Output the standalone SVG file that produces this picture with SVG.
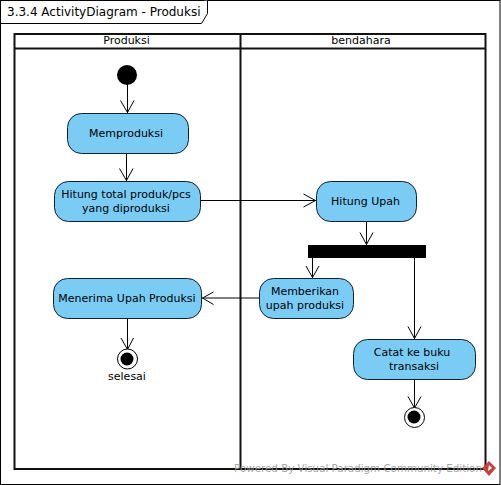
<svg xmlns="http://www.w3.org/2000/svg" width="501" height="485" viewBox="0 0 501 485">
<style>
text{font-family:"DejaVu Sans",sans-serif;font-size:11px;fill:#000;text-anchor:middle}
.act{fill:#7accf5;stroke:#10202c;stroke-width:1}
.c{fill:none;stroke:#000;stroke-width:1}
.lane{fill:none;stroke:#111;stroke-width:2}
.f{fill:#000}
.ring{fill:#fff;stroke:#000;stroke-width:1}
</style>
<rect width="501" height="485" fill="#fff"/>
<g id="frame">
<rect x="0.5" y="0.5" width="499.5" height="484" fill="none" stroke="#000"/>
<path d="M0.5 23.500H201.500L207.500 13.500V0.500" fill="#fff" stroke="#000"/>
<text x="7" y="16" style="text-anchor:start;font-size:12px">3.3.4 ActivityDiagram - Produksi</text>
</g>
<g id="lanes">
<rect class="lane" x="14.500" y="34" width="471" height="435"/>
<path class="lane" d="M14.500 48.500H485.500M240.500 34V469"/>
<text x="126.500" y="44">Produksi</text>
<text x="361" y="44">bendahara</text>
</g>
<g id="connectors">
<path class="c" d="M127.500 84V113M120.500 100.500L127.500 112.500L134 100.500"/>
<path class="c" d="M126.500 153V181M119.500 168.500L126.500 180.500L133 168.500"/>
<path class="c" d="M200 200.500H316M303.500 194L315.500 200.500L303.500 207"/>
<path class="c" d="M366.500 221V245M360 232.500L366.500 244.500L373 232.500"/>
<path class="c" d="M312.500 258V278M306 266L312.500 277.500L319 266"/>
<path class="c" d="M414.500 258V339M408 326.500L414.500 338.500L421 326.500"/>
<path class="c" d="M259 298H202M213.500 292L202.500 298L213.500 304.500"/>
<path class="c" d="M127.500 318V349M121 338L127.500 349.500L133.500 338"/>
<path class="c" d="M414.500 379V408M408 396.500L414.500 408L421 396.500"/>
</g>
<g id="start"><circle class="f" cx="127" cy="75" r="10"/></g>
<g id="memproduksi"><rect class="act" x="67.500" y="113.500" width="121" height="40" rx="14"/><text x="126" y="137">Memproduksi</text></g>
<g id="hitung-total"><rect class="act" x="54.500" y="181.500" width="146" height="40" rx="14"/><text x="126" y="198">Hitung total produk/pcs</text><text x="126" y="212">yang diproduksi</text></g>
<g id="hitung-upah"><rect class="act" x="316.500" y="181.500" width="100" height="40" rx="14"/><text x="365.500" y="205">Hitung Upah</text></g>
<g id="fork"><rect class="f" x="308" y="245" width="118" height="13"/></g>
<g id="memberikan"><rect class="act" x="259.500" y="278.500" width="94" height="40" rx="14"/><text x="305" y="295">Memberikan</text><text x="305" y="309">upah produksi</text></g>
<g id="menerima"><rect class="act" x="53.500" y="278.500" width="148" height="40" rx="14"/><text x="127" y="302">Menerima Upah Produksi</text></g>
<g id="catat"><rect class="act" x="353.500" y="339.500" width="122" height="40" rx="14"/><text x="412" y="356">Catat ke buku</text><text x="414" y="370">transaksi</text></g>
<g id="end1"><circle class="ring" cx="127.500" cy="359" r="10"/><circle class="f" cx="127" cy="359" r="6.500"/><text x="127" y="380">selesai</text></g>
<g id="end2"><circle class="ring" cx="414.500" cy="417.500" r="10"/><circle class="f" cx="414" cy="417" r="6.500"/></g>
<g id="watermark">
<text x="358" y="472" style="font-size:10.300px;fill:#999;opacity:.85">Powered By Visual Paradigm Community Edition</text>
<path d="M489 461L496 468L489 476L482 468Z" fill="#c9403a"/><path d="M489 465L492 468L488 471Z" fill="#fff"/>
</g>
</svg>
